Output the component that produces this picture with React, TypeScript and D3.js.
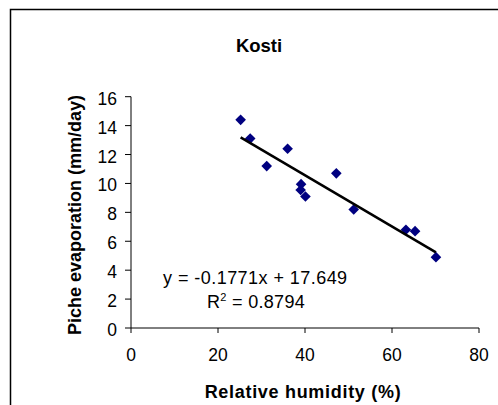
import React from "react";
import * as d3 from "d3";

const humidity = [25.2, 27.4, 31.2, 36.0, 39.1, 39.0, 40.1, 47.2, 51.2, 63.2, 65.3, 70.1];
const evaporation = [14.4, 13.1, 11.2, 12.4, 9.95, 9.55, 9.1, 10.7, 8.2, 6.8, 6.7, 4.9];
const xTicks = [0, 20, 40, 60, 80];
const yTicks = [0, 2, 4, 6, 8, 10, 12, 14, 16];
const slope = -0.1771;
const intercept = 17.649;
const title = "Kosti";
const xLabel = "Relative humidity (%)";
const yLabel = "Piche evaporation (mm/day)";
const eqText = "y = -0.1771x + 17.649";
const r2Value = "0.8794";

export default function App() {
  const W = 498, H = 405;
  const x = d3.scaleLinear().domain([0, 80]).range([131, 479]);
  const y = d3.scaleLinear().domain([0, 16]).range([328, 96.7]);
  const font = "Arial, 'Liberation Sans', sans-serif";
  const xMin = d3.min(humidity)!;
  const xMax = d3.max(humidity)!;
  const line = d3.line<number>().x((d) => x(d)).y((d) => y(slope * d + intercept));
  const diamond = d3.symbol().type(d3.symbolDiamond2).size(72)();
  const fs = 17.5;
  return (
    <svg width={W} height={H} style={{ position: "absolute", left: 0, top: 0 }} fontFamily={font}>
      <rect x={0} y={0} width={W} height={H} fill="white" />
      <rect x={10.5} y={9.5} width={W + 10} height={H + 10} fill="none" stroke="black" strokeWidth={1.5} />
      <text x={259} y={52} textAnchor="middle" fontWeight="bold" fontSize={18.5}>{title}</text>
      {/* axes */}
      <line x1={x(0)} x2={x(0)} y1={y(16)} y2={y(0)} stroke="black" strokeWidth={1} />
      <line x1={x(0)} x2={x(80)} y1={y(0)} y2={y(0)} stroke="black" strokeWidth={1} />
      {yTicks.map((t) => (
        <g key={"y" + t}>
          <line x1={x(0) - 6} x2={x(0)} y1={y(t)} y2={y(t)} stroke="black" />
          <text x={x(0) - 14} y={y(t) + 8} textAnchor="end" fontSize={fs}>{t}</text>
        </g>
      ))}
      {xTicks.map((t) => (
        <g key={"x" + t}>
          <line x1={x(t)} x2={x(t)} y1={y(0)} y2={y(0) + 5} stroke="black" />
          <text x={x(t)} y={361} textAnchor="middle" fontSize={fs}>{t}</text>
        </g>
      ))}
      <text x={303} y={398} textAnchor="middle" fontWeight="bold" fontSize={18} letterSpacing={0.7}>{xLabel}</text>
      <text transform={`translate(81,215) rotate(-90)`} textAnchor="middle" fontWeight="bold" fontSize={18}>{yLabel}</text>
      {/* points */}
      {humidity.map((h, i) => (
        <path key={i} d={diamond!} transform={`translate(${x(h)},${y(evaporation[i])})`} fill="#000080" />
      ))}
      {/* trend line */}
      <path d={line([xMin, xMax])!} stroke="black" strokeWidth={2.5} fill="none" />
      <text x={163} y={284} fontSize={18} letterSpacing={0.45}>{eqText}</text>
      <text x={207} y={308} fontSize={18} letterSpacing={0.3}>
        R<tspan dy={-7} fontSize={11}>2</tspan><tspan dy={7}>{" = " + r2Value}</tspan>
      </text>
    </svg>
  );
}
